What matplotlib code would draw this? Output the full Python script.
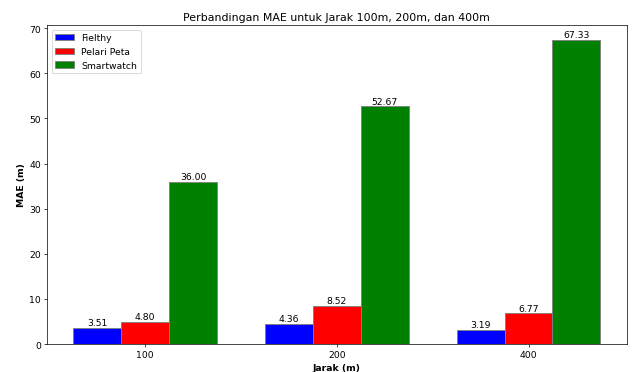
import numpy as np
import matplotlib
matplotlib.use("Agg")
import matplotlib.pyplot as plt

jarak = ["100", "200", "400"]
fielthy = [3.51, 4.36, 3.19]
pelari_peta = [4.80, 8.52, 6.77]
smartwatch = [36.00, 52.67, 67.33]

x = np.arange(len(jarak))
w = 0.25

fig, ax = plt.subplots(figsize=(10, 5.874), dpi=63.5)
b1 = ax.bar(x - w, fielthy, w, label="Fielthy", color="blue", edgecolor="grey")
b2 = ax.bar(x, pelari_peta, w, label="Pelari Peta", color="red", edgecolor="grey")
b3 = ax.bar(x + w, smartwatch, w, label="Smartwatch", color="green", edgecolor="grey")

for bars in (b1, b2, b3):
    for b in bars:
        h = b.get_height()
        ax.annotate(f"{h:.2f}", xy=(b.get_x() + b.get_width() / 2, h),
                    xytext=(0, 1), textcoords="offset points",
                    ha="center", va="bottom", fontsize=10.5)

ax.set_xticks(x)
ax.set_xticklabels(jarak)
ax.tick_params(labelsize=10.5)
ax.set_xlabel("Jarak (m)", fontweight="bold", fontsize=10.5)
ax.set_ylabel("MAE (m)", fontweight="bold", fontsize=10.5)
ax.set_title("Perbandingan MAE untuk Jarak 100m, 200m, dan 400m", fontsize=12.5)
ax.legend(loc="upper left", fontsize=10.5)

fig.subplots_adjust(left=0.074, right=0.987, top=0.930, bottom=0.075)
plt.savefig("out.png", dpi=63.5)
